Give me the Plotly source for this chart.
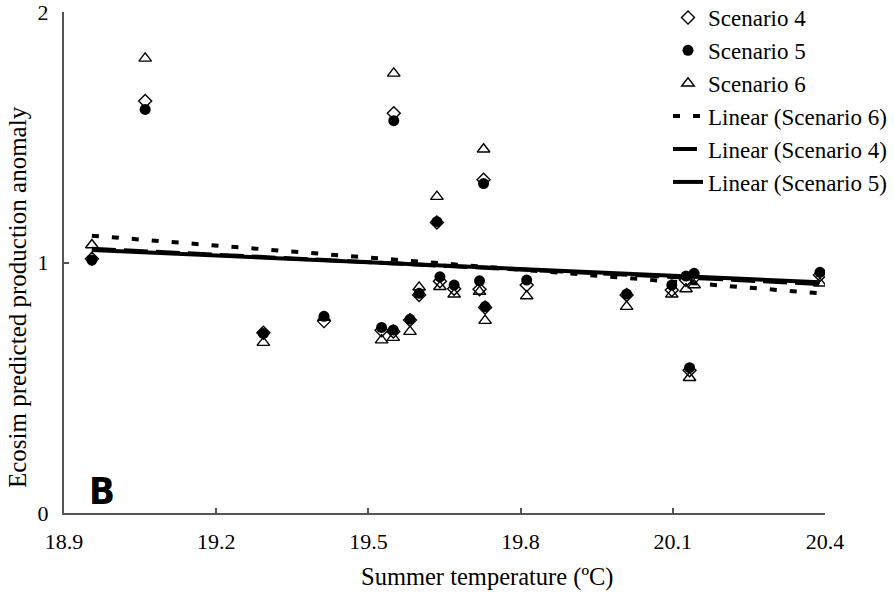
import plotly.graph_objects as go

# ---- data ----
temperature = [18.955, 19.06, 19.293, 19.4125, 19.526, 19.549, 19.55, 19.582, 19.60, 19.635,
               19.641, 19.669, 19.719, 19.727, 19.73, 19.812, 20.009, 20.098, 20.126, 20.133,
               20.142, 20.39]
scenario4 = [1.015, 1.645, 0.72, 0.766, 0.73, 0.725, 1.596, 0.77, 0.87, 1.16,
             0.925, 0.895, 0.893, 1.33, 0.82, 0.91, 0.87, 0.89, 0.93, 0.57,
             0.94, 0.95]
scenario5 = [1.01, 1.611, 0.717, 0.785, 0.741, 0.731, 1.566, 0.773, 0.877, 1.163,
             0.943, 0.91, 0.927, 1.315, 0.824, 0.93, 0.874, 0.91, 0.946, 0.58,
             0.957, 0.961]
scenario6 = [1.07, 1.815, 0.68, 0.78, 0.69, 0.70, 1.755, 0.724, 0.901, 1.263,
             0.903, 0.873, 0.884, 1.452, 0.768, 0.866, 0.824, 0.873, 0.894, 0.54,
             0.91, 0.917]
# linear trend values at the first and last temperature
trend6 = [1.107, 0.877]
trend4 = [1.055, 0.914]
trend5 = [1.05, 0.921]

x_ticks = [18.9, 19.2, 19.5, 19.8, 20.1, 20.4]
y_ticks = [0, 1, 2]

trend_x = [min(temperature), max(temperature)]

SERIF = "Liberation Serif, Times New Roman, serif"

fig = go.Figure()
fig.add_trace(go.Scatter(x=temperature, y=scenario4, mode="markers", name="Scenario 4",
                         marker=dict(symbol="diamond-open", size=10, color="black",
                                     line=dict(width=1.4, color="black"))))
fig.add_trace(go.Scatter(x=temperature, y=scenario5, mode="markers", name="Scenario 5",
                         marker=dict(symbol="circle", size=11, color="black")))
fig.add_trace(go.Scatter(x=temperature, y=scenario6, mode="markers", name="Scenario 6",
                         marker=dict(symbol="triangle-up-open", size=11, color="black",
                                     line=dict(width=1.4, color="black"))))
fig.add_trace(go.Scatter(x=trend_x, y=trend6, mode="lines", name="Linear (Scenario 6)",
                         line=dict(color="black", width=4, dash="7px,13px")))
fig.add_trace(go.Scatter(x=trend_x, y=trend4, mode="lines", name="Linear (Scenario 4)",
                         line=dict(color="black", width=4, dash="24px,8px")))
fig.add_trace(go.Scatter(x=trend_x, y=trend5, mode="lines", name="Linear (Scenario 5)",
                         line=dict(color="black", width=4)))

axis_common = dict(showgrid=False, zeroline=False, showline=True, linecolor="#555555",
                   linewidth=2, ticks="inside", ticklen=5, tickcolor="#555555", tickwidth=1.5,
                   ticklabeloverflow="allow",
                   tickfont=dict(family=SERIF, size=22, color="black"))

fig.update_xaxes(range=[18.9, 20.4], tickvals=x_ticks, ticktext=[f"{v:.1f}" for v in x_ticks],
                 ticklabelstandoff=8, **axis_common)
fig.update_yaxes(range=[0, 2], tickvals=y_ticks, ticktext=[str(v) for v in y_ticks],
                 ticklabelstandoff=9, **axis_common)

fig.update_layout(
    width=894, height=598,
    font=dict(family=SERIF, color="black"),
    margin=dict(l=64, r=69, t=12, b=85, autoexpand=False),
    paper_bgcolor="white", plot_bgcolor="white",
    showlegend=True,
    legend=dict(x=0.7937, y=1.032, xanchor="left", yanchor="top",
                font=dict(family=SERIF, size=23, color="black"),
                bgcolor="rgba(0,0,0,0)", tracegroupgap=0),
    annotations=[
        dict(text="B", xref="paper", yref="paper", x=0.05, y=0.044, showarrow=False,
             font=dict(family="Liberation Sans Narrow, DejaVu Sans Condensed, Liberation Sans",
                       size=38, color="black", weight="bold"),
             xanchor="center", yanchor="middle"),
        dict(text="Summer temperature (ºC)", xref="paper", yref="paper",
             x=(487 - 64) / 761, y=-(577 - 513) / 501, showarrow=False,
             font=dict(family=SERIF, size=24.5, color="black"), xanchor="center", yanchor="middle"),
        dict(text="Ecosim predicted production anomaly", xref="paper", yref="paper",
             x=-(64 - 18) / 761, y=(513 - 297) / 501, showarrow=False, textangle=-90,
             font=dict(family=SERIF, size=25, color="black"), xanchor="center", yanchor="middle"),
    ],
)

fig.write_html("out.html", config={"displayModeBar": False},
               post_script="document.body.style.margin='0px';")
